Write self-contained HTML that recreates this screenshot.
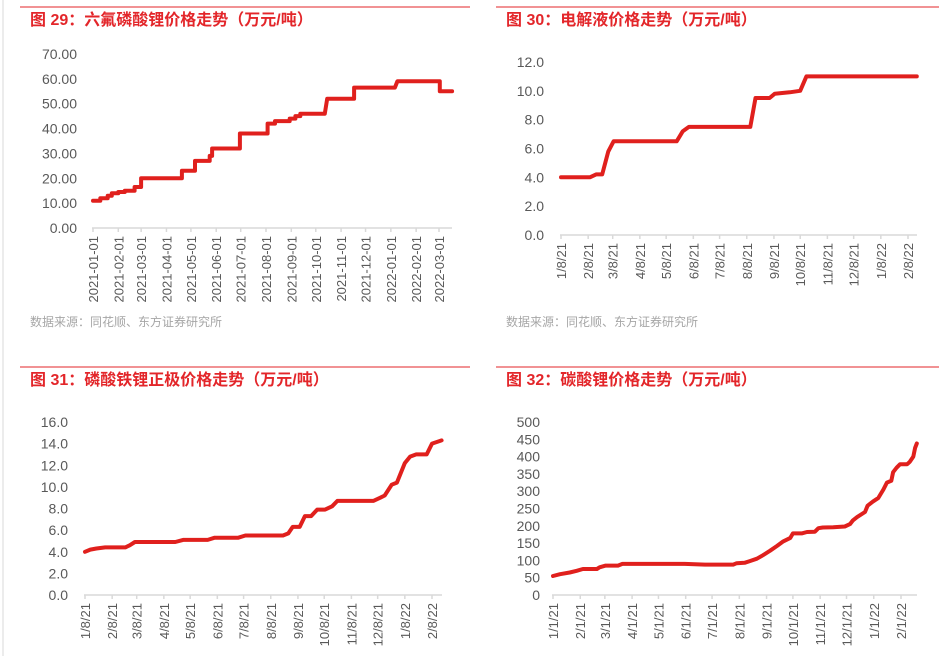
<!DOCTYPE html>
<html><head><meta charset="utf-8"><style>
body{margin:0;background:#fff;}
svg{display:block;font-family:"Liberation Sans","Noto Sans CJK SC",sans-serif;}
.t{fill:#e3262a;font-size:16px;font-weight:bold;}
.s{fill:#a6a6a6;font-size:12px;}
.y{fill:#595959;font-size:14px;text-anchor:end;}
.x{fill:#595959;font-size:13px;text-anchor:end;}
</style></head><body>
<svg id="c" width="939" height="656" viewBox="0 0 939 656">
<line x1="3" y1="0" x2="3" y2="656" stroke="#d9d9d9"/>
<line x1="20" y1="7" x2="470" y2="7" stroke="#e3262a"/>
<line x1="496" y1="7" x2="939" y2="7" stroke="#e3262a"/>
<line x1="20" y1="367" x2="470" y2="367" stroke="#e3262a"/>
<line x1="496" y1="367" x2="939" y2="367" stroke="#e3262a"/>
<text class="t" x="30" y="25">图 29：六氟磷酸锂价格走势（万元/吨）</text>
<text class="t" x="506" y="25">图 30：电解液价格走势（万元/吨）</text>
<text class="t" x="30" y="385">图 31：磷酸铁锂正极价格走势（万元/吨）</text>
<text class="t" x="506" y="385">图 32：碳酸锂价格走势（万元/吨）</text>
<text class="s" x="30" y="326">数据来源：同花顺、东方证券研究所</text>
<text class="s" x="506" y="326">数据来源：同花顺、东方证券研究所</text>
</svg>
<script>
// Panel 1: LiPF6
const p1Ticks = ["2021-01-01","2021-02-01","2021-03-01","2021-04-01","2021-05-01","2021-06-01","2021-07-01","2021-08-01","2021-09-01","2021-10-01","2021-11-01","2021-12-01","2022-01-01","2022-02-01","2022-03-01"];
const p1TickDays = [0,31,59,90,120,151,181,212,243,273,304,334,365,396,424];
const p1YTicks = ["0.00","10.00","20.00","30.00","40.00","50.00","60.00","70.00"];
const p1Days = [0,9,9,18,18,23,23,31,31,39,39,51,51,54,54,59,59,109,109,125,125,143,143,146,146,152,152,180,180,214,214,223,223,241,241,248,248,254,254,268,268,284,287,320,320,370,373,425,425,440];
const p1Vals = [11,11,12,12,13,13,14,14,14.5,14.5,15,15,16.5,16.5,16.5,16.5,20,20,23,23,27,27,29,29,32,32,32,32,38,38,42,42,43,43,44,44,45,45,46,46,46,46,52,52,56.5,56.5,59,59,55,55];
// Panel 2: electrolyte
const p2Ticks = ["1/8/21","2/8/21","3/8/21","4/8/21","5/8/21","6/8/21","7/8/21","8/8/21","9/8/21","10/8/21","11/8/21","12/8/21","1/8/22","2/8/22"];
const p2TickDays = [0,31,59,90,120,151,181,212,243,273,304,334,365,396];
const p2YTicks = ["0.0","2.0","4.0","6.0","8.0","10.0","12.0"];
const p2Days = [0,33,40,47,54,60,132,139,146,216,222,238,244,261,273,280,406];
const p2Vals = [4.0,4.0,4.2,4.2,5.8,6.5,6.5,7.2,7.5,7.5,9.5,9.5,9.8,9.9,10.0,11.0,11.0];
// Panel 3: LFP cathode
const p3Ticks = p2Ticks;
const p3TickDays = p2TickDays;
const p3YTicks = ["0.0","2.0","4.0","6.0","8.0","10.0","12.0","14.0","16.0"];
const p3Days = [0,6,13,23,46,51,57,103,112,140,148,175,183,226,232,237,245,251,258,265,274,282,288,329,337,342,350,356,365,371,378,390,396,407];
const p3Vals = [4.0,4.2,4.3,4.4,4.4,4.6,4.9,4.9,5.1,5.1,5.3,5.3,5.5,5.5,5.7,6.3,6.3,7.3,7.3,7.9,7.9,8.2,8.7,8.7,9.0,9.2,10.2,10.4,12.2,12.8,13.0,13.0,14.0,14.3];
// Panel 4: lithium carbonate
const p4Ticks = ["1/1/21","2/1/21","3/1/21","4/1/21","5/1/21","6/1/21","7/1/21","8/1/21","9/1/21","10/1/21","11/1/21","12/1/21","1/1/22","2/1/22"];
const p4TickDays = p2TickDays;
const p4YTicks = ["0","50","100","150","200","250","300","350","400","450","500"];
const p4Days = [0,8,19,27,34,50,53,60,74,79,150,173,205,209,218,224,232,239,247,255,262,270,273,283,289,298,302,307,319,332,338,341,346,355,358,364,370,376,380,385,387,391,395,403,406,410,412,414];
const p4Vals = [55,60,65,70,75,75,80,85,85,90,90,88,88,92,93,98,105,115,128,142,155,165,178,178,182,183,193,195,196,198,205,215,225,240,258,270,280,305,325,330,355,368,378,378,385,400,425,438];

const svg = document.getElementById('c');
const NS = 'http://www.w3.org/2000/svg';
function mk(tag, attrs){const e=document.createElementNS(NS,tag);for(const k in attrs)e.setAttribute(k,attrs[k]);svg.appendChild(e);return e;}

function panel(id, cfg, ticks, tickDays, yTicks, days, vals){
  const xs = d => cfg.x0 + d*(cfg.x1-cfg.x0)/cfg.dmax;
  const ys = v => cfg.yb - v*(cfg.yb-cfg.yt)/cfg.vmax;
  const ax = mk('line',{x1:cfg.xa,y1:cfg.yb,x2:cfg.xe,y2:cfg.yb,stroke:'#d9d9d9','stroke-width':1.5});
  
  
  yTicks.forEach((t,i)=>{
    const v = cfg.vmax*i/(yTicks.length-1);
    const tx = mk('text',{x:cfg.ylx,y:ys(v)+5,class:'y'}); tx.textContent=t;
    
    
  });
  ticks.forEach((t,i)=>{
    const x = xs(tickDays[i]);
    const tk = mk('line',{x1:x,y1:cfg.yb,x2:x,y2:cfg.yb+4,stroke:'#d9d9d9','stroke-width':1.5});
    
    
    const tx = mk('text',{x:0,y:0,class:'x',transform:`translate(${x+5},${cfg.yb+8}) rotate(-90)`}); tx.textContent=t;
    
    
  });
  const pts = days.map((d,i)=>xs(d).toFixed(1)+','+ys(vals[i]).toFixed(1)).join(' ');
  const pl = mk('polyline',{points:pts,fill:'none',stroke:'#e0201d','stroke-width':4,'stroke-linejoin':'round','stroke-linecap':'round'});
  
  
}
panel('panel1',{x0:93,x1:439,dmax:424,xa:92,xe:452,yb:228,yt:54,vmax:70,ylx:77},p1Ticks,p1TickDays,p1YTicks,p1Days,p1Vals);
panel('panel2',{x0:561,x1:908,dmax:396,xa:560,xe:917,yb:235,yt:62,vmax:12,ylx:544},p2Ticks,p2TickDays,p2YTicks,p2Days,p2Vals);
panel('panel3',{x0:85,x1:432,dmax:396,xa:84,xe:442,yb:595,yt:422,vmax:16,ylx:68},p3Ticks,p3TickDays,p3YTicks,p3Days,p3Vals);
panel('panel4',{x0:553,x1:901,dmax:396,xa:552,xe:917,yb:595,yt:422,vmax:500,ylx:540},p4Ticks,p4TickDays,p4YTicks,p4Days,p4Vals);
</script>
</body></html>
